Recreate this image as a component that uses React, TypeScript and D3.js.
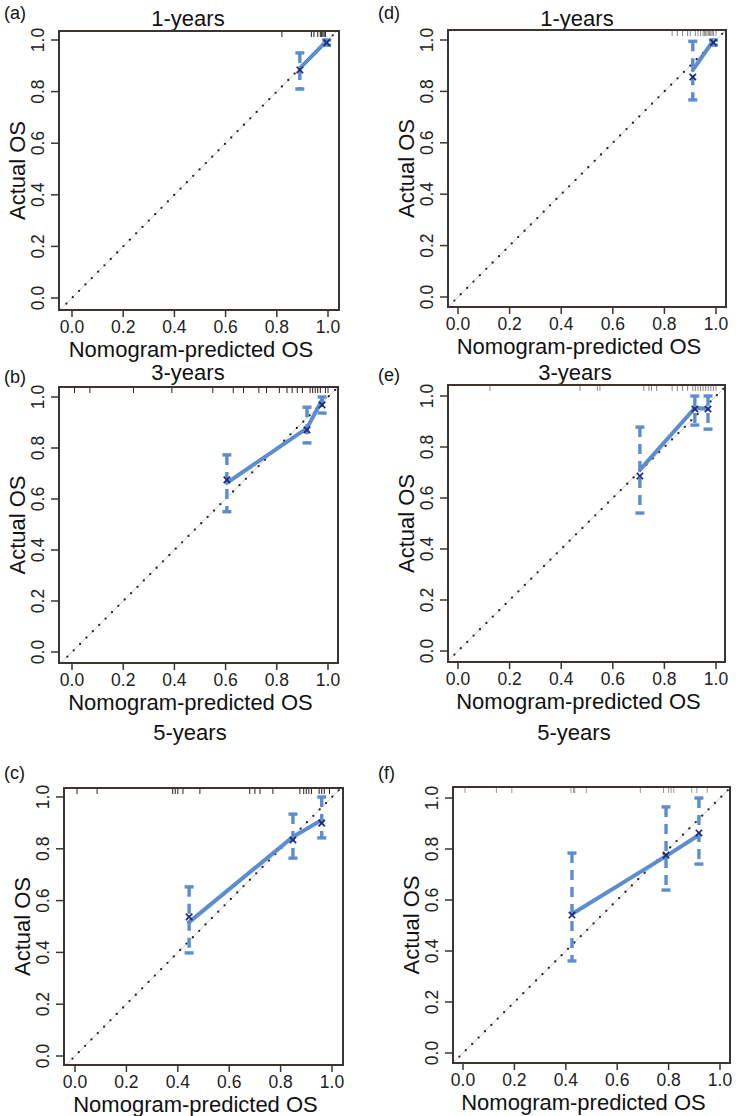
import React from "react";
import * as d3 from "d3";

// ---- data ----
const panelTags = ["(a)", "(b)", "(c)", "(d)", "(e)", "(f)"];
const panelTitles = ["1-years", "3-years", "5-years", "1-years", "3-years", "5-years"];
const axisTicks = [0, 0.2, 0.4, 0.6, 0.8, 1.0];
const xTitle = "Nomogram-predicted OS";
const yTitle = "Actual OS";

// predicted (x), observed (line), bias-corrected (x markers), CI lower / upper
const predA = [0.89, 0.995];
const obsA = [0.89, 0.997];
const corA = [0.884, 0.99];
const lowA = [0.81, 0.98];
const upA = [0.95, 1.0];
const rugA = [0.82, 0.935, 0.945, 0.96, 0.97, 0.975, 0.98, 0.985, 0.99];

const predB = [0.605, 0.918, 0.977];
const obsB = [0.663, 0.878, 0.988];
const corB = [0.675, 0.871, 0.969];
const lowB = [0.55, 0.82, 0.937];
const upB = [0.773, 0.96, 1.0];
const rugB = [0.01, 0.07, 0.24, 0.39, 0.55, 0.63, 0.67, 0.73, 0.76, 0.81, 0.84, 0.86, 0.88, 0.9, 0.93, 0.94, 0.95, 0.96, 0.97, 0.99, 1.0];

const predC = [0.444, 0.848, 0.96];
const obsC = [0.517, 0.846, 0.911];
const corC = [0.537, 0.834, 0.899];
const lowC = [0.398, 0.764, 0.842];
const upC = [0.653, 0.934, 1.0];
const rugC = [0.008, 0.086, 0.38, 0.39, 0.4, 0.42, 0.486, 0.68, 0.7, 0.72, 0.77, 0.875, 0.89, 0.9, 0.91, 0.92, 0.95, 0.96, 0.97, 0.99];

const predD = [0.91, 0.99];
const obsD = [0.883, 0.998];
const corD = [0.856, 0.99];
const lowD = [0.767, 0.98];
const upD = [0.995, 1.0];
const rugD = [0.83, 0.85, 0.87, 0.89, 0.9, 0.92, 0.93, 0.94, 0.95, 0.955, 0.96, 0.965, 0.97, 0.975, 0.98, 0.985, 0.99, 1.0];

const predE = [0.705, 0.918, 0.969];
const obsE = [0.71, 0.953, 0.95];
const corE = [0.686, 0.949, 0.949];
const lowE = [0.541, 0.886, 0.87];
const upE = [0.878, 1.0, 1.0];
const rugE = [0.124, 0.473, 0.54, 0.55, 0.72, 0.74, 0.75, 0.77, 0.83, 0.85, 0.87, 0.89, 0.91, 0.92, 0.93, 0.94, 0.95, 0.96, 0.97, 0.98, 0.99, 1.0];

const predF = [0.424, 0.79, 0.918];
const obsF = [0.545, 0.772, 0.855];
const corF = [0.541, 0.776, 0.863];
const lowF = [0.361, 0.639, 0.741];
const upF = [0.784, 0.965, 1.0];
const rugF = [0.008, 0.13, 0.19, 0.42, 0.43, 0.435, 0.48, 0.69, 0.78, 0.8, 0.81, 0.82, 0.89, 0.91, 0.95];

// ---- layout (pixel boxes of each sub-figure) ----
const layouts = [
  { L: 59, R: 339, T: 31, B: 310, x0: 72, x1: 328, y0: 298, y1: 40, titleX: 188, titleY: 18, tagX: 4, tagY: 13, rug: "#222" },
  { L: 59, R: 338, T: 387, B: 663, x0: 72, x1: 328, y0: 652, y1: 397, titleX: 188, titleY: 372, tagX: 4, tagY: 377, rug: "#222" },
  { L: 64, R: 343, T: 788, B: 1065, x0: 75, x1: 332, y0: 1056, y1: 797, titleX: 190, titleY: 732, tagX: 4, tagY: 773, rug: "#222" },
  { L: 448, R: 726, T: 30, B: 307, x0: 458, x1: 716, y0: 297, y1: 40, titleX: 577, titleY: 18, tagX: 378, tagY: 13, rug: "#888" },
  { L: 448, R: 725, T: 385, B: 662, x0: 458, x1: 716, y0: 651, y1: 396, titleX: 575, titleY: 372, tagX: 378, tagY: 375, rug: "#888" },
  { L: 453, R: 730, T: 787, B: 1063, x0: 463, x1: 720, y0: 1053, y1: 798, titleX: 574, titleY: 732, tagX: 378, tagY: 773, rug: "#999" },
];

const panels = [
  { pred: predA, obs: obsA, cor: corA, low: lowA, up: upA, rug: rugA },
  { pred: predB, obs: obsB, cor: corB, low: lowB, up: upB, rug: rugB },
  { pred: predC, obs: obsC, cor: corC, low: lowC, up: upC, rug: rugC },
  { pred: predD, obs: obsD, cor: corD, low: lowD, up: upD, rug: rugD },
  { pred: predE, obs: obsE, cor: corE, low: lowE, up: upE, rug: rugE },
  { pred: predF, obs: obsF, cor: corF, low: lowF, up: upF, rug: rugF },
];

const FONT = "'Liberation Sans', Arial, Helvetica, sans-serif";
const BLUE = "#5b8dd0";
const NAVY = "#1d2a7c";
const BOX = "#3a3531";

function Panel({ i }: { i: number }) {
  const lay = layouts[i];
  const d = panels[i];
  const x = d3.scaleLinear().domain([0, 1]).range([lay.x0, lay.x1]);
  const y = d3.scaleLinear().domain([0, 1]).range([lay.y0, lay.y1]);

  // diagonal clipped to the box
  const dLo = Math.max(x.invert(lay.L), y.invert(lay.B));
  const dHi = Math.min(x.invert(lay.R), y.invert(lay.T));

  const pts = d.pred.map((p, k) => [p, d.obs[k]] as [number, number]);
  const line = d3
    .line<[number, number]>()
    .x((p) => x(p[0]))
    .y((p) => y(p[1]));

  const clipId = `clip${i}`;
  const cap = 4.5;
  const mk = 3.2;

  return (
    <g>
      <defs>
        <clipPath id={clipId}>
          <rect x={lay.L} y={lay.T} width={lay.R - lay.L} height={lay.B - lay.T} />
        </clipPath>
      </defs>

      {/* tag and title */}
      <text x={lay.tagX} y={lay.tagY} dominantBaseline="central" fontSize={18} fontFamily={FONT} fill="#111">
        {panelTags[i]}
      </text>
      <text x={lay.titleX} y={lay.titleY} textAnchor="middle" dominantBaseline="central" fontSize={22} fontFamily={FONT} fill="#111">
        {panelTitles[i]}
      </text>

      <g clipPath={`url(#${clipId})`}>
        {/* rug of predicted values along the top */}
        {d.rug.map((r, k) => (
          <line key={k} x1={x(r)} x2={x(r)} y1={lay.T} y2={lay.T + 6} stroke={lay.rug} strokeWidth={1} />
        ))}
        {/* ideal line */}
        <line x1={x(dLo)} y1={y(dLo)} x2={x(dHi)} y2={y(dHi)} stroke="#cfcfcf" strokeWidth={1} />
        <line
          x1={x(dLo)}
          y1={y(dLo)}
          x2={x(dHi)}
          y2={y(dHi)}
          stroke="#222"
          strokeWidth={2.3}
          strokeLinecap="round"
          strokeDasharray="0 9"
        />
        {/* observed calibration line */}
        <path d={line(pts) || ""} fill="none" stroke={BLUE} strokeWidth={4} strokeLinecap="round" strokeLinejoin="round" />
        {/* error bars */}
        {d.pred.map((p, k) => (
          <g key={k} stroke={BLUE} strokeWidth={3.4}>
            <line x1={x(p)} x2={x(p)} y1={y(d.up[k])} y2={y(d.low[k])} strokeDasharray="10 7" />
            <line x1={x(p) - cap} x2={x(p) + cap} y1={y(d.up[k])} y2={y(d.up[k])} />
            <line x1={x(p) - cap} x2={x(p) + cap} y1={y(d.low[k])} y2={y(d.low[k])} />
          </g>
        ))}
        {/* bias-corrected markers */}
        {d.pred.map((p, k) => (
          <g key={k} stroke={NAVY} strokeWidth={1.7}>
            <line x1={x(p) - mk} x2={x(p) + mk} y1={y(d.cor[k]) - mk} y2={y(d.cor[k]) + mk} />
            <line x1={x(p) - mk} x2={x(p) + mk} y1={y(d.cor[k]) + mk} y2={y(d.cor[k]) - mk} />
          </g>
        ))}
      </g>

      {/* box */}
      <rect x={lay.L} y={lay.T} width={lay.R - lay.L} height={lay.B - lay.T} fill="none" stroke={BOX} strokeWidth={2} />

      {/* x axis */}
      {axisTicks.map((t) => (
        <g key={`x${t}`}>
          <line x1={x(t)} x2={x(t)} y1={lay.B} y2={lay.B + 7} stroke={BOX} strokeWidth={1.5} />
          <text x={x(t)} y={lay.B + 17} textAnchor="middle" dominantBaseline="central" fontSize={17.5} fontFamily={FONT} fill="#222">
            {t.toFixed(1)}
          </text>
        </g>
      ))}
      <text x={(lay.L + lay.R) / 2 - 8} y={lay.B + 39} textAnchor="middle" dominantBaseline="central" fontSize={22} fontFamily={FONT} fill="#111">
        {xTitle}
      </text>

      {/* y axis */}
      {axisTicks.map((t) => (
        <g key={`y${t}`}>
          <line x1={lay.L - 8} x2={lay.L} y1={y(t)} y2={y(t)} stroke={BOX} strokeWidth={1.5} />
          <text
            transform={`translate(${lay.L - 21},${y(t)}) rotate(-90)`}
            textAnchor="middle"
            dominantBaseline="central"
            fontSize={17.5}
            fontFamily={FONT}
            fill="#222"
          >
            {t.toFixed(1)}
          </text>
        </g>
      ))}
      <text
        transform={`translate(${lay.L - 42},${(lay.T + lay.B) / 2}) rotate(-90)`}
        textAnchor="middle"
        dominantBaseline="central"
        fontSize={22}
        fontFamily={FONT}
        fill="#111"
      >
        {yTitle}
      </text>
    </g>
  );
}

export default function App() {
  return (
    <svg
      width={741}
      height={1116}
      viewBox="0 0 741 1116"
      style={{ position: "absolute", left: 0, top: 0, background: "#fff" }}
    >
      <rect width={741} height={1116} fill="#fff" />
      {panels.map((_, i) => (
        <Panel key={i} i={i} />
      ))}
    </svg>
  );
}
